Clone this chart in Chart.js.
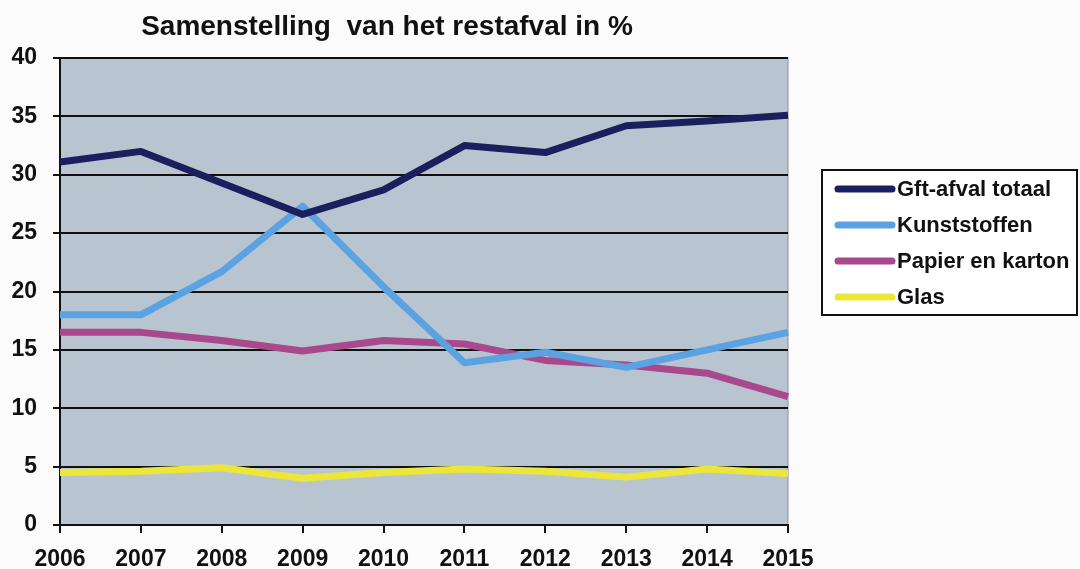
<!DOCTYPE html>
<html>
<head>
<meta charset="utf-8">
<script src="https://cdn.jsdelivr.net/npm/chart.js@4/dist/chart.umd.min.js"></script>
<style>
  html, body { margin: 0; padding: 0; background: #fbfbfb; }
  #wrap { width: 1080px; height: 569px; position: relative; }
</style>
</head>
<body>
<div id="wrap"><canvas id="restafvalChart" width="1080" height="569"></canvas></div>
<script>
// Data
const years = ['2006', '2007', '2008', '2009', '2010', '2011', '2012', '2013', '2014', '2015'];
const gftAfval = [31.1, 32.0, 29.3, 26.6, 28.7, 32.5, 31.9, 34.2, 34.6, 35.1];
const kunststoffen = [18.0, 18.0, 21.7, 27.3, 20.4, 13.9, 14.8, 13.5, 15.0, 16.5];
const papierKarton = [16.5, 16.5, 15.8, 14.9, 15.8, 15.5, 14.1, 13.7, 13.0, 11.0];
const glas = [4.5, 4.6, 4.9, 4.0, 4.5, 4.8, 4.6, 4.1, 4.8, 4.4];

const FONT = 'Arial, "Liberation Sans", sans-serif';

// Achtergrond plotgebied + titel
const plotBackground = {
    id: 'plotBackground',
    beforeDraw(chart) {
        const { ctx, chartArea: a } = chart;
        ctx.save();
        ctx.fillStyle = '#b8c4d0';
        ctx.fillRect(a.left, a.top, a.right - a.left, a.bottom - a.top);
        ctx.strokeStyle = '#8a929c';
        ctx.lineWidth = 1;
        ctx.strokeRect(a.left, a.top, a.right - a.left, a.bottom - a.top);
        ctx.fillStyle = '#111';
        ctx.font = 'bold 28px ' + FONT;
        ctx.textAlign = 'center';
        ctx.textBaseline = 'middle';
        ctx.fillText('Samenstelling  van het restafval in %', 387, 27);
        ctx.restore();
    }
};

// Legenda rechts in een kader
const boxLegend = {
    id: 'boxLegend',
    afterDraw(chart) {
        const { ctx } = chart;
        ctx.save();
        ctx.strokeStyle = '#111';
        ctx.lineWidth = 2;
        ctx.fillStyle = '#ffffff';
        ctx.fillRect(822, 170, 255, 145);
        ctx.strokeRect(822, 170, 255, 145);
        ctx.font = 'bold 22px ' + FONT;
        ctx.textBaseline = 'middle';
        ctx.textAlign = 'left';
        chart.data.datasets.forEach((ds, i) => {
            const y = 189 + i * 36;
            ctx.strokeStyle = ds.borderColor;
            ctx.lineWidth = 7;
            ctx.lineCap = 'round';
            ctx.beginPath();
            ctx.moveTo(838, y);
            ctx.lineTo(892, y);
            ctx.stroke();
            ctx.fillStyle = '#111';
            ctx.fillText(ds.label, 897, y + 1);
        });
        ctx.restore();
    }
};

const ctx = document.getElementById('restafvalChart').getContext('2d');
const chart = new Chart(ctx, {
    type: 'line',
    data: {
        labels: years,
        datasets: [{
            label: 'Gft-afval totaal',
            data: gftAfval,
            borderColor: '#1b1f5e'
        }, {
            label: 'Kunststoffen',
            data: kunststoffen,
            borderColor: '#5ba2e2'
        }, {
            label: 'Papier en karton',
            data: papierKarton,
            borderColor: '#a9488c'
        }, {
            label: 'Glas',
            data: glas,
            borderColor: '#ece63a'
        }]
    },
    options: {
        responsive: false,
        animation: false,
        layout: { padding: { top: 58, right: 292, left: 0, bottom: 0 } },
        elements: {
            line: { borderWidth: 7, tension: 0, borderJoinStyle: 'round', borderCapStyle: 'butt' },
            point: { radius: 0 }
        },
        plugins: {
            legend: { display: false },
            title: { display: false },
            tooltip: { enabled: false }
        },
        scales: {
            x: {
                offset: false,
                grid: { drawOnChartArea: false, drawTicks: true, tickLength: 8, color: '#111', lineWidth: 2 },
                border: { color: '#111', width: 2 },
                ticks: { color: '#111', font: { family: FONT, size: 23, weight: 'bold' }, padding: 13, maxRotation: 0, autoSkip: false },
                afterFit(scale) { scale.height = 44; }
            },
            y: {
                min: 0,
                max: 40,
                ticks: { stepSize: 5, color: '#111', font: { family: FONT, size: 23, weight: 'bold' }, padding: 16 },
                grid: { color: '#111', lineWidth: 2, tickLength: 7 },
                border: { color: '#111', width: 2 },
                afterFit(scale) { scale.width = 60; }
            }
        }
    },
    plugins: [plotBackground, boxLegend]
});
</script>
</body>
</html>
